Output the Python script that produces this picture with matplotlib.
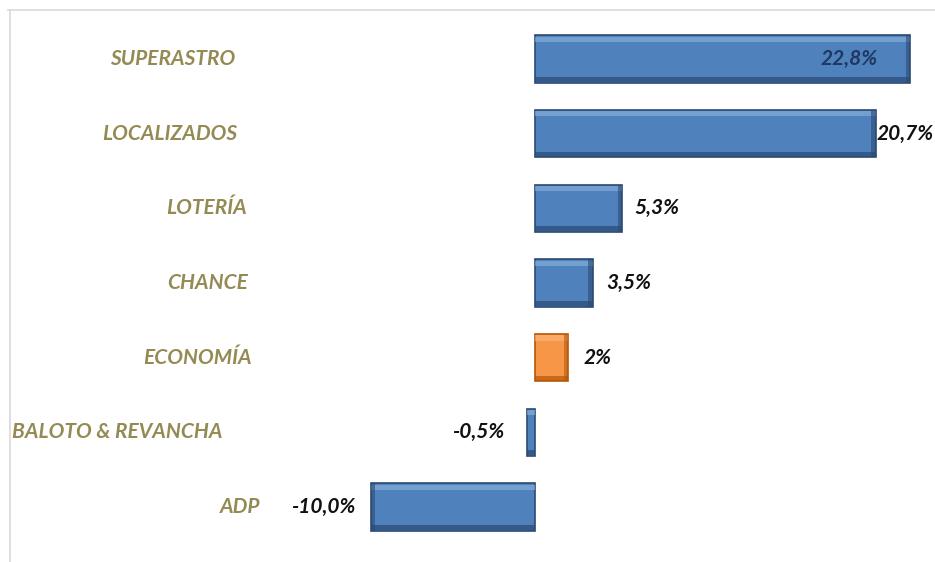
import matplotlib
matplotlib.use("Agg")
import matplotlib.pyplot as plt
from matplotlib import transforms
from matplotlib.lines import Line2D

categories = ["SUPERASTRO", "LOCALIZADOS", "LOTERÍA", "CHANCE", "ECONOMÍA",
              "BALOTO & REVANCHA", "ADP"]
values = [22.8, 20.7, 5.3, 3.5, 2.0, -0.5, -10.0]
value_labels = ["22,8%", "20,7%", "5,3%", "3,5%", "2%", "-0,5%", "-10,0%"]
highlight = [False, False, False, False, True, False, False]

# layout / style (not data)
label_right_px = [235, 237, 247, 248, 252, 222, 260]
val_offset_pt = [-23, 1, 9, 10, 11, -16, -11]
val_inside = [True, False, False, False, False, False, False]

W, H = 935, 562
fig = plt.figure(figsize=(W / 100, H / 100), dpi=100)
ax = fig.add_axes([0, 0, 1, 1])
px_per_unit = 16.45
zero_px = 535
ax.set_xlim(-zero_px / px_per_unit, (W - zero_px) / px_per_unit)
spacing = 74.67
first_px = 59
ax.set_ylim((H - first_px) / spacing, -first_px / spacing)
ax.axis("off")

FONT = ["Lato", "DejaVu Sans"]
blue = "#4F81BD"
orange = "#F79646"
ys = list(range(len(categories)))
h = 0.63
faces = [orange if hl else blue for hl in highlight]
darks = ["#B65708" if hl else "#2B4A73" for hl in highlight]
lights = ["#FBB97F" if hl else "#8FB2E0" for hl in highlight]

ax.barh(ys, values, height=h, color=faces, edgecolor=darks, linewidth=1.2, zorder=2)
# bevel: top light strip, bottom dark strip
ax.barh([y - h / 2 + 0.05 for y in ys], values, height=0.07, color=lights,
        linewidth=0, alpha=0.6, zorder=3)
ax.barh([y + h / 2 - 0.04 for y in ys], values, height=0.07, color=darks,
        linewidth=0, alpha=0.7, zorder=3)
# dark end caps
ends = [v - 0.25 if v > 0 else v for v in values]
ax.barh(ys, [0.25 if abs(v) > 0.6 else 0 for v in values], left=ends, height=h,
        color=darks, linewidth=0, alpha=0.6, zorder=3)

trans_lbl = transforms.blended_transform_factory(ax.transAxes, ax.transData)
for y, cat, rpx in zip(ys, categories, label_right_px):
    ax.text(rpx / W, y, cat, transform=trans_lbl, ha="right", va="center",
            fontsize=15, fontweight="bold", fontstyle="italic",
            color="#948A54", family=FONT)

for y, v, lbl, off, inside in zip(ys, values, value_labels, val_offset_pt, val_inside):
    if inside:
        ha = "right"
        col = "#1F3864"
    elif v >= 0:
        ha = "left"
        col = "#111111"
    else:
        ha = "right"
        col = "#111111"
    ax.annotate(lbl, (v, y), xytext=(off, 0), textcoords="offset points",
                ha=ha, va="center", fontsize=15, fontweight="bold",
                fontstyle="italic", color=col, family=FONT, zorder=5)

fig.add_artist(Line2D([8 / W, 1], [1 - 10 / H, 1 - 10 / H], color="#D9D9D9",
                      lw=1.2, transform=fig.transFigure))
fig.add_artist(Line2D([10 / W, 10 / W], [0, 1 - 10 / H], color="#D9D9D9",
                      lw=1.2, transform=fig.transFigure))

fig.savefig("out.png", dpi=100, facecolor="white")
